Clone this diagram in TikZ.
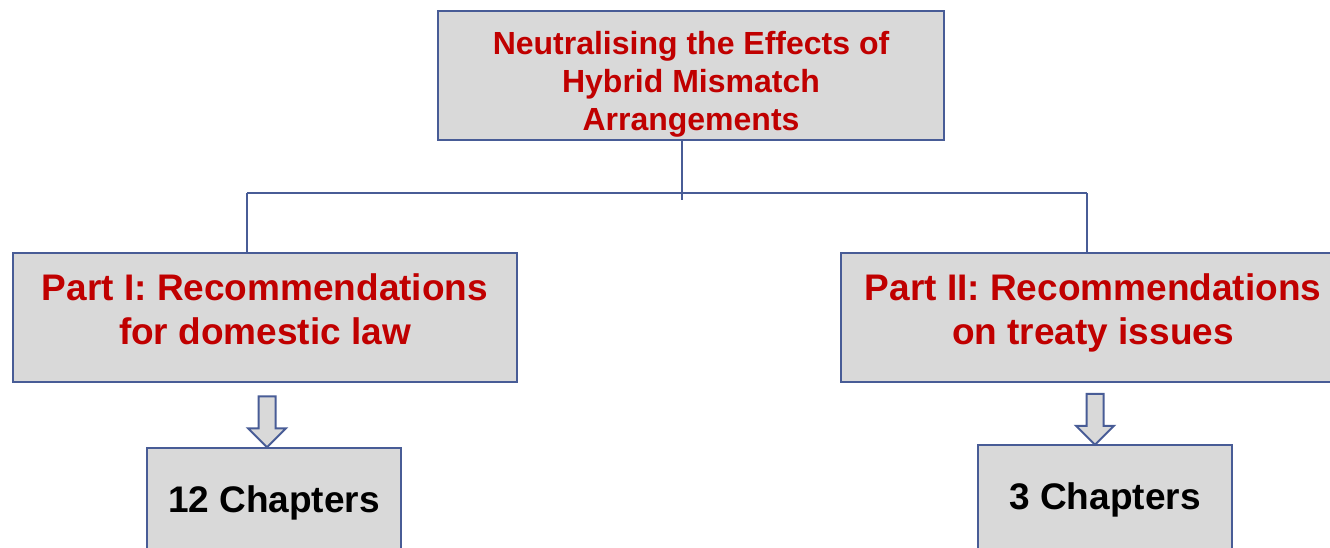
\documentclass[tikz,border=0pt]{standalone}
\usepackage{fontspec}
\setmainfont{Liberation Sans}
\usepackage{tikz}
\usetikzlibrary{calc,shapes.arrows,positioning}
\definecolor{boxline}{RGB}{72,92,150}
\definecolor{boxfill}{RGB}{217,217,217}
\definecolor{titred}{RGB}{192,0,0}

\begin{document}
\begin{tikzpicture}[x=1pt,y=-1pt,
	box/.style={draw=boxline,fill=boxfill,line width=2.5pt,align=center,inner sep=0pt},
	bigtxt/.style={font=\fontsize{37}{44}\selectfont\bfseries},
	link/.style={draw=boxline,line width=2pt},
	downarrow/.style={single arrow,draw=boxline,fill=boxfill,line width=2pt,rotate=-90,
		minimum height=51pt,inner sep=7.5pt,single arrow head extend=10.5pt}]
		\useasboundingbox (0,0) rectangle (1330,547);
		\clip (0,0) rectangle (1330,547);
		% title and the two parts
		\node[box,text=titred,font=\fontsize{32}{38}\selectfont\bfseries,minimum width=506pt,minimum height=129pt] (top) at (691,75.5) {\rule{0pt}{40pt}Neutralising the Effects of\\Hybrid Mismatch\\Arrangements};
		\node[box,bigtxt,text=titred,minimum width=504pt,minimum height=129pt] (p1) at (265,317.5) {Part I: Recommendations\\for domestic law\rule[-16pt]{0pt}{0pt}};
		\node[box,bigtxt,text=titred,minimum width=504pt,minimum height=129pt] (p2) at (1093,317.5) {Part II: Recommendations\\on treaty issues\rule[-16pt]{0pt}{0pt}};
		\node[box,bigtxt,minimum width=254pt,minimum height=104pt] (ch1) at (274,500) {\rule{0pt}{33pt}12 Chapters};
		\node[box,bigtxt,minimum width=254pt,minimum height=104pt] (ch2) at (1105,497) {\rule{0pt}{33pt}3 Chapters};
		% connectors
		\coordinate (stem) at (682,200);
		\coordinate (busL) at (247,193);
		\coordinate (busR) at (1087,193);
		\draw[link] (top.south -| stem) -- (stem);
		\draw[link] (busL) -- (busR);
		\draw[link] (busL) -- (busL |- p1.north);
		\draw[link] (busR) -- (busR |- p2.north);
		\node[downarrow] (arr1) at (267,417.5) {};
		\node[downarrow] (arr2) at (1095,415) {};
	\end{tikzpicture}
\end{document}
